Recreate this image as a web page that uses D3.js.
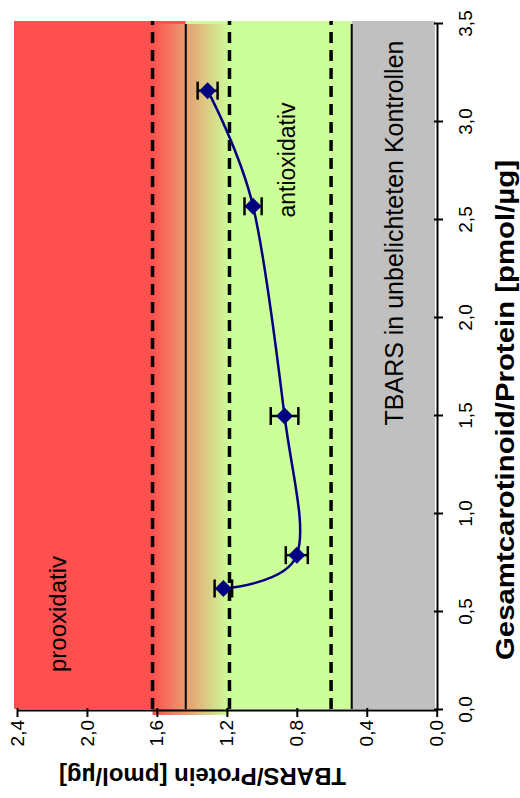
<!DOCTYPE html>
<html>
<head>
<meta charset="utf-8">
<script src="https://cdn.jsdelivr.net/npm/d3@7"></script>
<style>
    body{margin:0;background:#fff;}
    svg{display:block;font-family:"Liberation Sans",Arial,sans-serif;}
</style>
</head>
<body>
<div id="chart"></div>
<script>
// 0.data
var carotinoid = [0.62, 0.79, 1.50, 2.57, 3.16];      // pmol/µg
var tbars      = [1.22, 0.80, 0.87, 1.05, 1.31];      // pmol/µg
var tbarsErr   = [0.05, 0.063, 0.079, 0.049, 0.057];

var carotTicks = [0, 0.5, 1.0, 1.5, 2.0, 2.5, 3.0, 3.5];
var tbarsTicks = [0, 0.4, 0.8, 1.2, 1.6, 2.0, 2.4];

var dashedLevels = [1.625, 1.185, 0.604];
var solidLevels  = [1.435, 0.486];
var proLimit  = 1.435;   // above: prooxidativ
var ctrlLimit = 0.486;   // below: unbelichtete Kontrollen
var fadeFrom  = 1.625;
var fadeTo    = 1.185;

// 0.1.size  (chart is drawn lying, then turned by -90deg)
var svgBGW = 520, svgBGH = 798;

var fmt = d3.formatLocale({decimal: ",", thousands: ".", grouping: [3], currency: ["", "€"]}).format(".1f");

// 1.dom
var svgBG = d3.select("#chart").append("svg").attr("width", svgBGW).attr("height", svgBGH);
var defs = svgBG.append("defs");
var svg = svgBG.append("g").attr("transform", "translate(0," + svgBGH + ") rotate(-90)");

var xScale = d3.scaleLinear().domain([0, 3.5]).range([88, 774]);
var yScale = d3.scaleLinear().domain([0, 2.4]).range([436.7, 17]);

var plotL = 89, plotR = 777, plotT = 14, plotB = 435;

// 2.background zones
svg.append("rect").attr("x", plotL).attr("width", plotR - plotL)
    .attr("y", plotT).attr("height", yScale(proLimit) - plotT).attr("fill", "#ff5050");
svg.append("rect").attr("x", plotL).attr("width", plotR - plotL)
    .attr("y", yScale(proLimit)).attr("height", yScale(ctrlLimit) - yScale(proLimit)).attr("fill", "#ccff99");
svg.append("rect").attr("x", plotL).attr("width", plotR - plotL)
    .attr("y", yScale(ctrlLimit)).attr("height", plotB - yScale(ctrlLimit)).attr("fill", "#c0c0c0");

var grad = defs.append("linearGradient").attr("id", "fade")
    .attr("x1", 0).attr("y1", 0).attr("x2", 0).attr("y2", 1);
grad.append("stop").attr("offset", 0).attr("stop-color", "#ff5050");
grad.append("stop").attr("offset", 1).attr("stop-color", "#ccff99");
svg.append("rect").attr("x", 83).attr("width", 774 - 83)
    .attr("y", yScale(fadeFrom)).attr("height", yScale(fadeTo) - yScale(fadeFrom))
    .attr("fill", "url(#fade)");

// 3.reference lines
svg.selectAll(".dash").data(dashedLevels).enter().append("line")
    .attr("x1", plotL).attr("x2", plotR)
    .attr("y1", function(d){ return yScale(d); }).attr("y2", function(d){ return yScale(d); })
    .attr("stroke", "#000").attr("stroke-width", 3.5).attr("stroke-dasharray", "11,7");
svg.selectAll(".solid").data(solidLevels).enter().append("line")
    .attr("x1", plotL).attr("x2", 774)
    .attr("y1", function(d){ return yScale(d); }).attr("y2", function(d){ return yScale(d); })
    .attr("stroke", "#000").attr("stroke-width", 2);

// 4.zone labels
svg.append("text").attr("x", 184).attr("y", 66).attr("text-anchor", "middle")
    .attr("font-size", 24).text("prooxidativ");
svg.append("text").attr("x", 638).attr("y", 295).attr("text-anchor", "middle")
    .attr("font-size", 23).text("antioxidativ");
svg.append("text").attr("x", 565).attr("y", 403).attr("text-anchor", "middle")
    .attr("font-size", 25).text("TBARS in unbelichteten Kontrollen");

// 5.axes
var axX = svg.append("g").attr("transform", "translate(0,437)")
    .call(d3.axisBottom(xScale).tickValues(carotTicks).tickFormat(fmt).tickSizeOuter(0).tickSizeInner(6));
var axY = svg.append("g").attr("transform", "translate(87,0)")
    .call(d3.axisLeft(yScale).tickValues(tbarsTicks).tickFormat(fmt).tickSizeOuter(0).tickSizeInner(6));
[axX, axY].forEach(function(a){
    a.select(".domain").attr("stroke", "#000").attr("stroke-width", 2);
    a.selectAll(".tick line").attr("stroke", "#000").attr("stroke-width", 2);
    a.selectAll(".tick text").attr("font-size", 19).attr("fill", "#000")
        .attr("font-family", "'Liberation Sans',Arial,sans-serif");
});
axX.selectAll(".tick line").attr("y1", -3).attr("y2", 6);
axX.selectAll(".tick text").attr("y", 35).attr("dy", 0);
axY.selectAll(".tick line").attr("x1", 3).attr("x2", -6);

svg.append("text").attr("x", 388).attr("y", 514).attr("text-anchor", "middle")
    .attr("font-size", 25).attr("font-weight", "bold")
    .attr("textLength", 500).attr("lengthAdjust", "spacingAndGlyphs")
    .text("Gesamtcarotinoid/Protein [pmol/µg]");
svg.append("text").attr("transform", "translate(30,202.5) rotate(-90)").attr("text-anchor", "middle")
    .attr("font-size", 24).attr("font-weight", "bold")
    .text("TBARS/Protein [pmol/µg]");

// 6.series
var pts = carotinoid.map(function(c, i){ return {c: c, t: tbars[i], e: tbarsErr[i]}; });

// excel style smoothing ~ uniform catmull-rom
var line = d3.line()
    .x(function(d){ return xScale(d.c); })
    .y(function(d){ return yScale(d.t); })
    .curve(d3.curveCardinal.tension(0));
svg.append("path").datum(pts).attr("d", line)
    .attr("fill", "none").attr("stroke", "#000080").attr("stroke-width", 2.5);

var err = svg.append("g").attr("stroke", "#000").attr("stroke-width", 2.5);
pts.forEach(function(d){
    var x = xScale(d.c), y0 = yScale(d.t - d.e), y1 = yScale(d.t + d.e);
    err.append("line").attr("x1", x).attr("x2", x).attr("y1", y0).attr("y2", y1);
    err.append("line").attr("x1", x - 9).attr("x2", x + 9).attr("y1", y0).attr("y2", y0);
    err.append("line").attr("x1", x - 9).attr("x2", x + 9).attr("y1", y1).attr("y2", y1);
});

var r = 8.5;
svg.selectAll(".pt").data(pts).enter().append("path")
    .attr("d", function(d){
        var x = xScale(d.c), y = yScale(d.t);
        return "M" + x + "," + (y - r) + "L" + (x + r) + "," + y + "L" + x + "," + (y + r) + "L" + (x - r) + "," + y + "Z";
    })
    .attr("fill", "#000080");
</script>
</body>
</html>
